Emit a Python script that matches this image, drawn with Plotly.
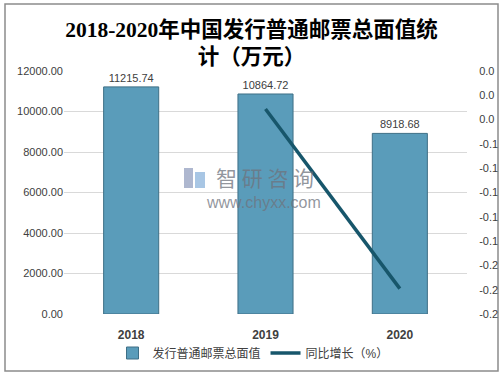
import plotly.graph_objects as go

# ---- data ----
years = ["2018", "2019", "2020"]
face_value = [11215.74, 10864.72, 8918.68]
growth = [None, -0.0313, -0.1791]
value_labels = ["11215.74", "10864.72", "8918.68"]
left_ticks = [0, 2000, 4000, 6000, 8000, 10000, 12000]
left_ticktext = ["0.00", "2000.00", "4000.00", "6000.00", "8000.00", "10000.00", "12000.00"]
right_ticks = [0.0, -0.02, -0.04, -0.06, -0.08, -0.10, -0.12, -0.14, -0.16, -0.18, -0.20]
right_ticktext = ["0.0", "0.0", "0.0", "-0.1", "-0.1", "-0.1", "-0.1", "-0.1", "-0.2", "-0.2", "-0.2"]
title_text = "2018-2020年中国发行普通邮票总面值统<br>计（万元）"
bar_name = "发行普通邮票总面值"
line_name = "同比增长（%）"
wm_brand = "智 研 咨 询"
wm_site = "www.chyxx.com"

W, H = 503, 378
L, R, T, B = 64, 36, 71, 64
pw, ph = W - L - R, H - T - B

def px_x(x):
    return (x - L) / pw

def px_y(y):
    return (H - B - y) / ph

sans = "Liberation Sans, Noto Sans CJK SC, sans-serif"

fig = go.Figure()
fig.add_trace(go.Bar(
    x=years, y=face_value, name=bar_name,
    marker=dict(color="#5a9cba", line=dict(color="#3e6f86", width=1)),
    text=value_labels, textposition="outside",
    textfont=dict(size=11, color="#404040", family=sans),
    cliponaxis=False, width=0.41,
))
fig.add_trace(go.Scatter(
    x=years, y=growth, name=line_name, yaxis="y2",
    mode="lines", line=dict(color="#17566b", width=3.5),
    connectgaps=False,
))

wm_col = "rgba(110,115,125,0.75)"
fig.update_layout(
    width=W, height=H,
    margin=dict(l=L, r=R, t=T, b=B, autoexpand=False),
    paper_bgcolor="white", plot_bgcolor="white",
    title=dict(text=title_text, x=0.5, xref="container", xanchor="center",
               y=1 - 36.5 / H, yref="container", yanchor="middle",
               font=dict(family="Liberation Serif, Noto Sans CJK SC, serif", size=21.5, color="#000000", weight="bold")),
    xaxis=dict(showgrid=False, showline=False, ticks="outside", ticklen=10, tickcolor="rgba(0,0,0,0)",
               tickfont=dict(size=12, color="#404040", family=sans, weight="bold")),
    yaxis=dict(range=[0, 12000], tickvals=left_ticks, ticktext=left_ticktext,
               showgrid=True, gridcolor="#d9d9d9", gridwidth=1, zeroline=False,
               showline=False, ticks="", tickfont=dict(size=11, color="#404040", family=sans)),
    yaxis2=dict(range=[-0.2, 0.0], overlaying="y", side="right",
                tickvals=right_ticks, ticktext=right_ticktext,
                ticks="outside", ticklen=9, tickcolor="rgba(0,0,0,0)",
                showgrid=False, zeroline=False, showline=False,
                tickfont=dict(size=11, color="#404040", family=sans)),
    legend=dict(orientation="h", x=px_x(253), xanchor="center", y=px_y(353), yanchor="middle",
                font=dict(size=12, color="#404040", family=sans), itemwidth=30,
                bgcolor="rgba(0,0,0,0)"),
    bargap=0.59,
    showlegend=True,
    shapes=[
        dict(type="rect", xref="paper", yref="paper",
             x0=px_x(5), x1=px_x(498), y0=px_y(371), y1=px_y(4),
             line=dict(color="#8c8c8c", width=1.5), fillcolor="rgba(0,0,0,0)", layer="below"),
        dict(type="rect", xref="paper", yref="paper",
             x0=px_x(184), x1=px_x(193), y0=px_y(188), y1=px_y(168),
             line=dict(width=0), fillcolor="rgba(120,135,175,0.6)"),
        dict(type="rect", xref="paper", yref="paper",
             x0=px_x(195), x1=px_x(205), y0=px_y(188), y1=px_y(172),
             line=dict(width=0), fillcolor="rgba(110,160,210,0.6)"),
    ],
    annotations=[
        dict(text=wm_brand, x=px_x(265), y=px_y(177), xref="paper", yref="paper",
             yanchor="middle", showarrow=False,
             font=dict(size=21, color=wm_col, family="Noto Sans CJK SC")),
        dict(text=wm_site, x=px_x(263), y=px_y(202), xref="paper", yref="paper",
             yanchor="middle", showarrow=False,
             font=dict(size=16, color=wm_col, family="Liberation Sans")),
    ],
)

fig.write_html("out.html", config={"displayModeBar": False},
               post_script="document.body.style.margin='0';")
